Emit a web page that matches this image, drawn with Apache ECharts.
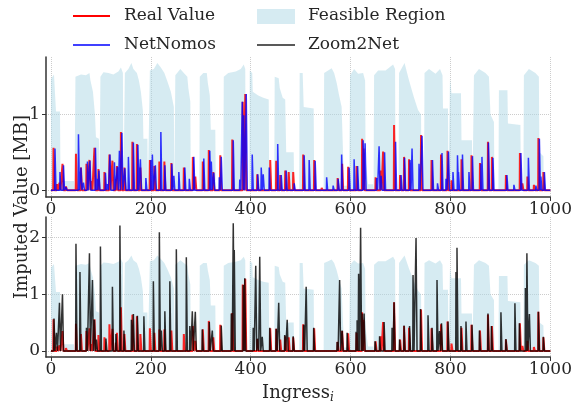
<!DOCTYPE html>
<html>
<head>
<meta charset="utf-8">
<script src="https://cdn.jsdelivr.net/npm/echarts@6/dist/echarts.min.js"></script>
<style>
  html, body { margin: 0; padding: 0; background: #fff; }
  #chart { width: 575px; height: 404px; }
</style>
</head>
<body>
<div id="chart"></div>
<script>
// upper bound of the feasible region (breakpoints)
const feasX = [0, 6, 9, 10, 18, 19, 46, 47,
  48, 49, 60, 70, 77, 79, 84, 88, 90, 96, 97,
  98, 99, 105, 115, 125, 135, 140, 144, 145,
  147, 148, 155, 161, 165, 172, 176, 180, 184, 185, 193, 194,
  197, 198, 206, 213, 220, 227, 234, 240, 246, 247,
  248, 249, 259, 266, 273, 275, 279, 280,
  297, 298, 305, 312, 314, 318, 320, 329, 330,
  345, 346, 355, 370, 380, 386, 389, 390,
  397, 398, 403, 404, 415, 425, 436, 437,
  447, 448, 456, 458, 464, 469, 471, 486, 487,
  497, 498, 504, 506, 526, 527,
  546, 547, 555, 562, 567, 572, 577, 582, 585, 587, 596, 597,
  598, 599, 607, 615, 625, 629, 630, 634, 635, 645, 646,
  647, 655, 670, 685, 689, 690,
  696, 697, 708, 717, 727, 735, 741, 742,
  747, 748, 757, 770, 779, 784, 785, 795, 796,
  798, 799, 802, 821, 822, 843, 844,
  846, 847, 857, 870, 877, 880, 887, 888,
  896, 897, 914, 915, 940, 941,
  946, 947, 957, 970, 977, 978, 986, 987, 1000];
const feasY = [1.47, 1.53, 1.52, 1.04, 1.04, 0.12, 0.12, 0,
  0, 1.5, 1.53, 1.52, 1.55, 1.45, 1.3, 1.0, 0.7, 0.68, 0,
  0, 1.5, 1.56, 1.55, 1.53, 1.57, 1.62, 1.55, 0,
  0, 1.55, 1.6, 1.68, 1.6, 1.55, 1.45, 1.3, 1.05, 0.68, 0.68, 0,
  0, 1.58, 1.6, 1.68, 1.62, 1.55, 1.42, 1.3, 1.1, 0,
  0, 1.52, 1.6, 1.55, 1.5, 1.35, 1.17, 0,
  0, 1.5, 1.55, 1.55, 1.42, 1.25, 0.8, 0.8, 0,
  0, 1.5, 1.55, 1.57, 1.6, 1.66, 1.6, 0,
  0, 1.58, 1.55, 1.3, 1.25, 1.22, 1.2, 0,
  0, 1.5, 1.48, 1.35, 1.22, 1.2, 0.5, 0.5, 0,
  0, 1.55, 1.55, 1.1, 1.08, 0,
  0, 1.55, 1.58, 1.61, 1.55, 1.42, 1.25, 1.1, 0.45, 0.06, 0.06, 0,
  0, 1.52, 1.6, 1.54, 1.55, 1.45, 0.4, 0.4, 0.08, 0.08, 0,
  1.52, 1.58, 1.58, 1.66, 1.6, 0,
  0, 1.55, 1.68, 1.45, 1.22, 1.06, 1.0, 0,
  0, 1.55, 1.6, 1.54, 1.6, 1.52, 1.08, 1.08, 0,
  0, 1.48, 1.28, 1.28, 0.66, 0.66, 0,
  0, 1.52, 1.6, 1.55, 1.5, 1.0, 0.9, 0,
  0, 1.32, 1.32, 0.88, 0.86, 0,
  0, 1.52, 1.6, 1.55, 1.5, 0.5, 0.45, 0, 0];

// Real Value spikes
const realX = [5, 12, 17, 23, 30, 50, 60, 71, 77, 81, 87, 95, 107, 117, 123, 130, 132, 140, 147, 163, 172, 179,
  198, 207, 217, 227, 241, 266, 284, 289, 304, 316, 325, 339, 363, 384, 389, 413, 439, 451, 459,
  469, 476, 485, 505, 527, 542, 574, 583, 595, 612, 623, 626, 650, 660, 665, 687, 699, 707, 717,
  741, 762, 781, 794, 802, 822, 842, 859, 875, 883, 911, 939, 944, 954, 967, 976, 986];
const realY = [0.56, 0.08, 0.1, 0.35, 0.05, 0.48, 0.3, 0.35, 0.4, 0.12, 0.56, 0.28, 0.24, 0.47, 0.39, 0.15, 0.32, 0.77, 0.3, 0.64, 0.61, 0.3,
  0.4, 0.32, 0.38, 0.38, 0.36, 0.3, 0.44, 0.18, 0.38, 0.53, 0.24, 0.46, 0.67, 1.17, 1.27, 0.21, 0.4, 0.39, 0.2,
  0.26, 0.24, 0.24, 0.47, 0.4, 0.03, 0.16, 0.35, 0.31, 0.32, 0.68, 0.55, 0.17, 0.26, 0.51, 0.86, 0.2, 0.44, 0.41,
  0.73, 0.4, 0.47, 0.52, 0.13, 0.41, 0.46, 0.36, 0.64, 0.44, 0.2, 0.49, 0.09, 0.18, 0.07, 0.69, 0.24];

// NetNomos spikes
const netX = [8, 18, 25, 30, 55, 60, 65, 73, 78, 89, 92, 96, 109, 113, 118, 127, 133, 137, 142, 148, 155, 165, 174, 179,
  190, 200, 203, 209, 220, 228, 242, 246, 256, 268, 277, 286, 306, 318, 321, 326, 337, 341, 365, 378,
  383, 386, 391, 403, 414, 421, 425, 437, 454, 461, 471, 487, 507, 517, 529, 552, 565, 575, 582, 597,
  607, 614, 625, 629, 652, 657, 661, 668, 690, 701, 708, 719, 723, 737, 743, 764, 774, 783, 791, 796,
  805, 814, 816, 824, 837, 844, 861, 863, 876, 885, 913, 927, 941, 956, 971, 978, 981, 988];
const netY = [0.55, 0.24, 0.33, 0.04, 0.74, 0.3, 0.1, 0.38, 0.39, 0.56, 0.15, 0.26, 0.23, 0.08, 0.47, 0.37, 0.31, 0.52, 0.76, 0.29, 0.44, 0.63, 0.6, 0.41,
  0.16, 0.4, 0.47, 0.33, 0.77, 0.33, 0.35, 0.19, 0.24, 0.3, 0.15, 0.44, 0.42, 0.52, 0.38, 0.23, 0.17, 0.44, 0.66, 0.14,
  1.17, 0.99, 1.27, 0.47, 0.21, 0.3, 0.21, 0.3, 0.61, 0.2, 0.26, 0.09, 0.46, 0.4, 0.39, 0.17, 0.06, 0.15, 0.47, 0.3,
  0.41, 0.32, 0.66, 0.62, 0.16, 0.58, 0.19, 0.5, 0.64, 0.2, 0.43, 0.4, 0.55, 0.35, 0.72, 0.4, 0.09, 0.49, 0.15, 0.51,
  0.24, 0.46, 0.24, 0.47, 0.24, 0.45, 0.35, 0.44, 0.63, 0.43, 0.2, 0.07, 0.49, 0.43, 0.06, 0.68, 0.18, 0.24];

// Zoom2Net spikes
const zoomX = [6, 11, 17, 23, 50, 58, 71, 77, 83, 87, 91, 99, 110, 123, 130, 138, 146, 161, 165, 173,
  186, 205, 217, 221, 228, 238, 251, 271, 278, 283, 289, 303, 317, 323, 341, 361, 365, 367, 385, 388,
  405, 410, 414, 418, 423, 438, 451, 456, 468, 473, 485, 506, 511, 526, 573, 578, 583, 593, 611, 613,
  616, 620, 623, 627, 649, 658, 667, 683, 687, 698, 707, 718, 725, 731, 740, 755, 763, 773, 778, 782,
  795, 811, 813, 821, 831, 843, 858, 875, 882, 901, 911, 929, 938, 950, 953, 958, 976, 986];
const zoomY = [0.57, 0.32, 0.85, 1.0, 1.89, 1.39, 0.41, 1.72, 1.25, 0.55, 0.2, 1.84, 0.22, 1.13, 0.3, 2.21, 0.36, 0.55, 0.65, 0.62,
  0.61, 1.23, 2.09, 0.36, 0.7, 1.23, 1.79, 1.65, 0.44, 0.7, 0.69, 0.38, 0.51, 0.36, 0.45, 0.66, 2.25, 1.78, 1.16, 1.28,
  0.41, 1.5, 0.22, 1.66, 0.25, 0.41, 0.39, 0.85, 0.28, 0.55, 0.26, 0.46, 1.13, 0.41, 0.16, 1.25, 0.36, 0.32, 0.34, 0.54,
  1.36, 2.17, 0.66, 0.66, 0.17, 0.26, 0.51, 0.41, 0.86, 0.2, 0.45, 0.44, 1.34, 1.99, 0.74, 0.63, 0.41, 1.25, 0.35, 0.49,
  0.52, 1.39, 1.82, 0.44, 0.52, 0.46, 0.36, 0.66, 0.44, 0.68, 0.21, 0.84, 0.49, 1.11, 1.72, 0.65, 0.69, 0.25];

const xTicks = [0, 200, 400, 600, 800, 1000];
const topTicks = [0, 1];
const bottomTicks = [0, 1, 2];

const FONT = 'DejaVu Serif';
const TXT = '#262626';

// baseline + one short flat-topped peak per listed sample
function spikeLine(xs, ys) {
  const pairs = xs.map((x, i) => [x, ys[i]]).sort((a, b) => a[0] - b[0]);
  const pts = [[0, 0]];
  pairs.forEach(([x, y]) => {
    pts.push([x - 0.5, 0], [x, y], [x + 1.5, y], [x + 2, 0]);
  });
  pts.push([1000, 0]);
  return pts;
}

const feasData = feasX.map((x, i) => [x, feasY[i]]);
const realData = spikeLine(realX, realY);
const netData = spikeLine(netX, netY);
const zoomData = spikeLine(zoomX, zoomY);

function xAxisFor(gridIndex) {
  return {
    type: 'value', gridIndex, min: -10, max: 1000,
    axisLine: { show: true, onZero: false, lineStyle: { color: '#333', width: 1.5 } },
    axisTick: { show: true, length: 4, customValues: xTicks, lineStyle: { color: '#333' } },
    axisLabel: { customValues: xTicks, formatter: (v) => String(v), color: TXT, fontFamily: FONT, fontSize: 17, margin: 4 },
    splitLine: { show: true, lineStyle: { color: '#ccc', type: 'dotted', width: 1 } }
  };
}

function yAxisFor(gridIndex, min, max, ticks) {
  return {
    type: 'value', gridIndex, min, max,
    axisLine: { show: true, onZero: false, lineStyle: { color: '#333', width: 1.5 } },
    axisTick: { show: true, length: 4, customValues: ticks, lineStyle: { color: '#333' } },
    axisLabel: { customValues: ticks, color: TXT, fontFamily: FONT, fontSize: 17, margin: 6 },
    splitLine: { show: true, lineStyle: { color: '#ccc', type: 'dotted', width: 1 } }
  };
}

function feasSeries(idx) {
  return {
    name: 'Feasible Region', type: 'line', xAxisIndex: idx, yAxisIndex: idx,
    data: feasData, showSymbol: false, symbol: 'none', silent: true,
    lineStyle: { width: 0 },
    areaStyle: { color: 'rgba(173,216,230,0.5)', opacity: 1 },
    z: 1
  };
}

function spikeSeries(name, data, idx, color, width, opacity, z) {
  return {
    name, type: 'line', xAxisIndex: idx, yAxisIndex: idx,
    data, showSymbol: false, symbol: 'none', silent: true,
    lineStyle: { color, width, opacity },
    z
  };
}

const chart = echarts.init(document.getElementById('chart'), null, { renderer: 'canvas' });

chart.setOption({
  animation: false,
  backgroundColor: '#fff',
  grid: [
    { left: 46, top: 57, width: 505, height: 140 },
    { left: 46, top: 217, width: 505, height: 140 }
  ],
  xAxis: [xAxisFor(0), xAxisFor(1)],
  yAxis: [yAxisFor(0, -0.09, 1.76, topTicks), yAxisFor(1, -0.106, 2.36, bottomTicks)],
  series: [
    feasSeries(0),
    spikeSeries('Real Value', realData, 0, '#ff0000', 2, 0.85, 3),
    spikeSeries('NetNomos', netData, 0, '#0000ff', 1.5, 0.8, 4),
    feasSeries(1),
    spikeSeries('Real Value', realData, 1, '#ff0000', 2, 0.85, 3),
    spikeSeries('Zoom2Net', zoomData, 1, '#000000', 1.5, 0.8, 4)
  ],
  graphic: [
    // legend
    { type: 'line', shape: { x1: 73, y1: 16, x2: 110, y2: 16 }, style: { stroke: '#ff0000', lineWidth: 2 } },
    { type: 'text', x: 124, y: 16, style: { text: 'Real Value', fill: TXT, font: '17px "DejaVu Serif"', verticalAlign: 'middle' } },
    { type: 'rect', shape: { x: 257, y: 9, width: 38, height: 15 }, style: { fill: 'rgba(173,216,230,0.5)' } },
    { type: 'text', x: 308, y: 16, style: { text: 'Feasible Region', fill: TXT, font: '17px "DejaVu Serif"', verticalAlign: 'middle' } },
    { type: 'line', shape: { x1: 73, y1: 45, x2: 110, y2: 45 }, style: { stroke: '#0000ff', lineWidth: 1.5 } },
    { type: 'text', x: 124, y: 45, style: { text: 'NetNomos', fill: TXT, font: '17px "DejaVu Serif"', verticalAlign: 'middle' } },
    { type: 'line', shape: { x1: 257, y1: 45, x2: 295, y2: 45 }, style: { stroke: '#222', lineWidth: 1.5 } },
    { type: 'text', x: 308, y: 45, style: { text: 'Zoom2Net', fill: TXT, font: '17px "DejaVu Serif"', verticalAlign: 'middle' } },
    // axis titles
    {
      type: 'text', x: 22, y: 207, rotation: Math.PI / 2,
      style: { text: 'Imputed Value [MB]', fill: TXT, font: '18px "DejaVu Serif"', align: 'center', verticalAlign: 'middle' }
    },
    {
      type: 'text', x: 298, y: 393,
      style: {
        text: 'Ingress{sub|i}', fill: TXT, font: '18px "DejaVu Serif"', align: 'center', verticalAlign: 'middle',
        rich: { sub: { fontFamily: FONT, fontStyle: 'italic', fontSize: 12, fill: TXT, padding: [9, 0, 0, 0] } }
      }
    }
  ]
});
</script>
</body>
</html>
